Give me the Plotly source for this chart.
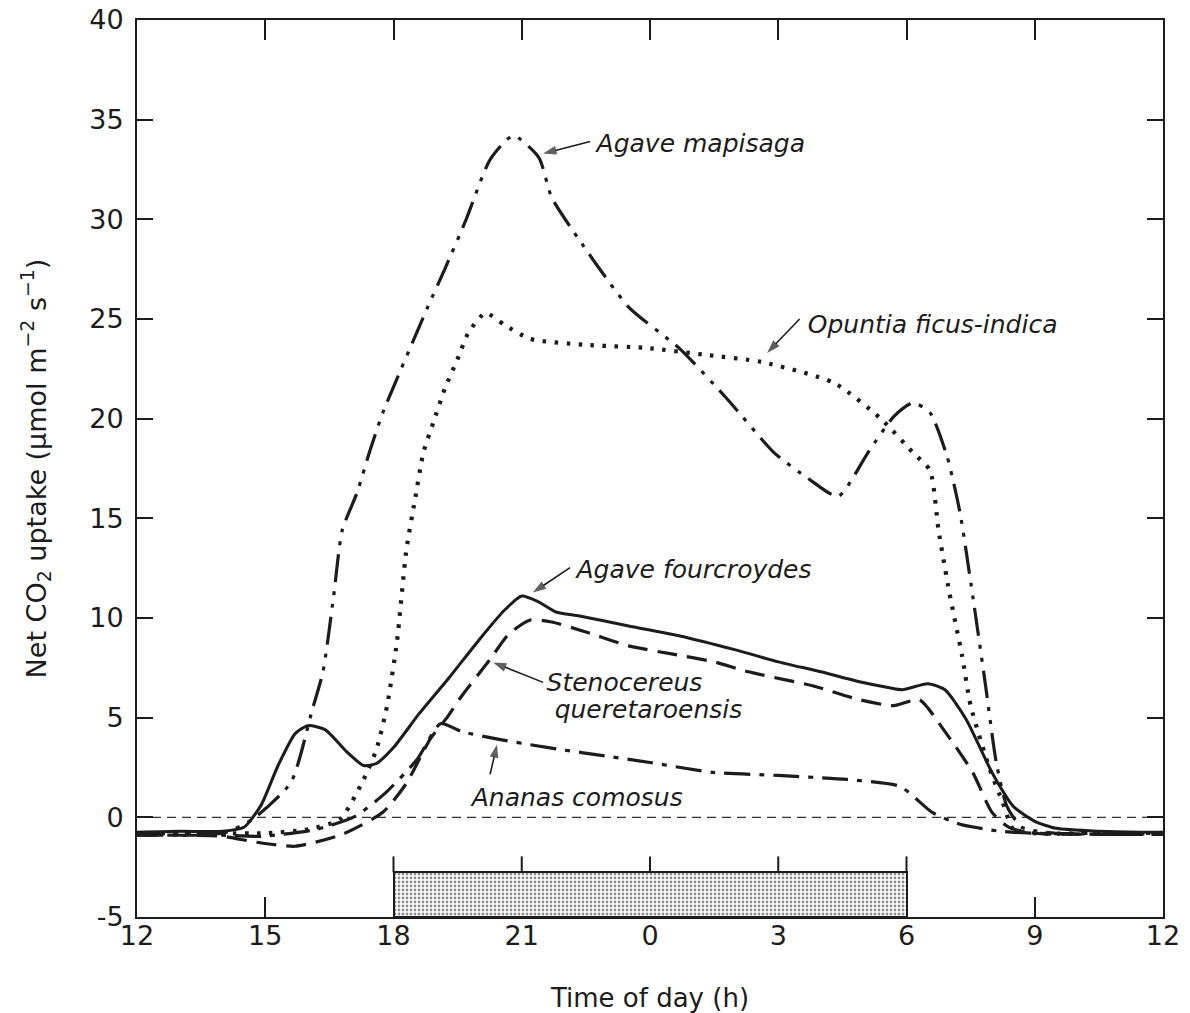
import plotly.graph_objects as go

# Time axis: hours from 12:00 on day 1 to 12:00 on day 2 (36 = noon next day)
tick_hours = [12, 15, 18, 21, 24, 27, 30, 33, 36]
tick_labels = ["12", "15", "18", "21", "0", "3", "6", "9", "12"]
y_ticks = [-5, 0, 5, 10, 15, 20, 25, 30, 35, 40]
y_tick_labels = ["-5", "0", "5", "10", "15", "20", "25", "30", "35", "40"]

# Net CO2 uptake (µmol m-2 s-1) for each species
fourcroydes_t = [12, 13, 14, 14.5, 14.9, 15.3, 15.7, 16.0, 16.4, 16.9, 17.3, 17.6, 18.0,
                 18.6, 19.3, 20.0, 20.6, 21.0, 21.4, 21.8, 22.35, 23.5, 24.7, 26.0, 27.0,
                 28.0, 28.9, 29.6, 29.9, 30.5, 30.9, 31.4, 32.0, 32.5, 33.0, 33.5, 34.5, 35.5, 36]
fourcroydes_v = [-0.75, -0.7, -0.7, -0.5, 0.6, 2.6, 4.2, 4.6, 4.4, 3.3, 2.6, 2.7, 3.5,
                 5.2, 7.0, 8.9, 10.4, 11.1, 10.8, 10.3, 10.1, 9.6, 9.1, 8.4, 7.8,
                 7.3, 6.8, 6.5, 6.4, 6.7, 6.4, 4.9, 2.25, 0.55, -0.2, -0.55, -0.7, -0.75, -0.75]

stenocereus_t = [12, 13, 14, 14.8, 15.7, 16.8, 17.75, 18.3, 18.85, 19.25, 19.6, 20.25, 20.7,
                 21.2, 21.7, 22.5, 23.5, 24.5, 25.5, 26.3, 27.8, 28.9, 29.7, 30.3, 30.9,
                 31.55, 32.0, 32.4, 33.0, 34.5, 36]
stenocereus_v = [-0.9, -0.9, -0.95, -1.25, -1.45, -0.85, 0.25, 1.7, 3.9, 5.0, 6.1, 7.9, 9.2,
                 9.9, 9.8, 9.3, 8.6, 8.2, 7.8, 7.3, 6.6, 5.9, 5.6, 5.9, 4.3,
                 2.25, 0.25, -0.5, -0.8, -0.85, -0.85]

ananas_t = [12, 13, 14, 14.95, 16.2, 17.1, 17.8, 18.55, 19.1, 19.6, 20.5, 21.9, 22.4, 24.0,
            25.5, 27.0, 28.6, 29.85, 30.6, 31.25, 32.2, 33.0, 34.5, 36]
ananas_v = [-0.9, -0.9, -0.9, -0.95, -0.6, 0.05, 1.2, 2.9, 4.7, 4.3, 3.9, 3.4, 3.25, 2.75,
            2.25, 2.1, 1.9, 1.55, 0.25, -0.35, -0.7, -0.8, -0.85, -0.85]

opuntia_t = [12, 13, 14, 15, 16, 16.75, 17.3, 17.6, 17.85, 18.08, 18.3, 18.5, 18.7, 18.93,
             19.2, 19.5, 19.75, 20.15, 20.6, 21.2, 22.5, 23.9, 25.3, 26.6, 28.3, 29.4,
             30.15, 30.55, 30.75, 31.0, 31.3, 31.5, 31.95, 32.25, 32.5, 33.0, 34.5, 36]
opuntia_v = [-0.8, -0.8, -0.8, -0.8, -0.6, -0.1, 1.9, 3.4, 5.6, 8.8, 13.4, 15.9, 18.3, 19.8,
             21.5, 23.0, 24.3, 25.3, 24.7, 24.0, 23.7, 23.55, 23.2, 22.85, 21.8, 20.0,
             18.3, 17.4, 14.4, 11.3, 8.1, 5.6, 2.4, 0.75, -0.6, -0.8, -0.8, -0.8]

mapisaga_t = [12, 13, 14, 14.7, 15.6, 16.1, 16.35, 16.6, 16.8, 17.15, 17.45, 17.75, 18.1,
              18.4, 18.8, 19.2, 19.7, 20.26, 20.8, 21.4, 21.7, 22.4, 23.5, 24.7, 25.8,
              26.9, 27.7, 28.4, 29.1, 29.7, 30.15, 30.55, 30.95, 31.25, 31.55, 31.85,
              32.1, 32.35, 32.7, 33.5, 34.5, 36]
mapisaga_v = [-0.8, -0.8, -0.8, -0.1, 1.75, 5.4, 7.3, 11.1, 14.4, 16.3, 18.4, 20.3, 22.1,
              23.6, 25.6, 27.5, 30.0, 33.0, 34.2, 33.1, 31.1, 28.8, 25.6, 23.5, 21.0,
              18.3, 17.0, 16.1, 18.3, 20.1, 20.8, 20.3, 18.1, 15.3, 11.1, 6.6,
              2.75, 0.55, -0.5, -0.8, -0.8, -0.8]

# Dark period (18:00 to 06:00) shown as a stippled bar above the x axis
dark_start, dark_end = 18, 30
dark_bar_top = -2.76

ink = "#1c1c1c"
font_family = "DejaVu Sans, Verdana, sans-serif"

fig = go.Figure()

# Stippled night bar
fig.add_trace(go.Bar(
    x=[(dark_start + dark_end) / 2], y=[dark_bar_top - y_ticks[0]], base=[y_ticks[0]],
    width=[dark_end - dark_start],
    marker=dict(color="white", line=dict(color=ink, width=2),
                pattern=dict(shape=".", fgcolor="#222", bgcolor="white", size=4, solidity=0.4)),
    hoverinfo="skip", showlegend=False,
))

# Short tick marks standing on top of the night bar
bar_tick_x, bar_tick_y = [], []
for t in tick_hours:
    if dark_start <= t <= dark_end:
        bar_tick_x += [t, t, None]
        bar_tick_y += [dark_bar_top, dark_bar_top + 0.8, None]
fig.add_trace(go.Scatter(x=bar_tick_x, y=bar_tick_y, mode="lines",
                         line=dict(color=ink, width=2), hoverinfo="skip", showlegend=False))

# Zero reference line
fig.add_trace(go.Scatter(x=[tick_hours[0], tick_hours[-1]], y=[0, 0], mode="lines",
                         line=dict(color="#333", width=1.3, dash="9px,6px"),
                         hoverinfo="skip", showlegend=False))

series = [
    (ananas_t, ananas_v, dict(width=3.2, dash="26px,9px,5px,9px")),
    (stenocereus_t, stenocereus_v, dict(width=3.2, dash="20px,10px")),
    (opuntia_t, opuntia_v, dict(width=4.2, dash="3.5px,8.5px")),
    (mapisaga_t, mapisaga_v, dict(width=3.2, dash="28px,9px,4px,9px,4px,9px")),
    (fourcroydes_t, fourcroydes_v, dict(width=3)),
]
for t, v, ln in series:
    fig.add_trace(go.Scatter(x=t, y=v, mode="lines",
                             line=dict(color=ink, shape="spline", smoothing=0.6, **ln),
                             hoverinfo="skip", showlegend=False))

# Species labels with leader arrows: (text, label x, label y, arrow tail, arrow head)
labels = [
    ("Agave mapisaga", 22.75, 33.7, (22.6, 33.9), (21.5, 33.3)),
    ("Opuntia ficus-indica", 27.69, 24.6, (27.5, 25.0), (26.74, 23.3)),
    ("Agave fourcroydes", 22.28, 12.32, (22.13, 12.53), (21.26, 11.28)),
    ("Stenocereus", 21.58, 6.66, (21.5, 6.77), (20.33, 7.77)),
    ("queretaroensis", 21.77, 5.3, None, None),
    ("Ananas comosus", 19.83, 0.9, (20.26, 2.16), (20.42, 3.66)),
]
fig.add_trace(go.Scatter(
    x=[lb[1] for lb in labels], y=[lb[2] for lb in labels], text=[lb[0] for lb in labels],
    mode="text", textposition="middle right",
    textfont=dict(family=font_family, size=25, color=ink, style="italic"),
    hoverinfo="skip", showlegend=False))

for text, tx, ty, tail, head in labels:
    if head is not None:
        fig.add_trace(go.Scatter(
            x=[tail[0], head[0]], y=[tail[1], head[1]], mode="lines+markers",
            line=dict(color=ink, width=1.6),
            marker=dict(symbol="arrow", size=[0, 14], color=ink, angleref="previous",
                        line=dict(width=0)),
            hoverinfo="skip", showlegend=False))

axis_common = dict(
    showline=True, linecolor=ink, linewidth=2, mirror="allticks",
    ticks="inside", tickcolor=ink, tickwidth=2,
    showgrid=False, zeroline=False, automargin=False,
    tickfont=dict(family=font_family, size=27, color=ink),
)

fig.update_layout(
    width=1190, height=1013,
    margin=dict(l=137, r=27, t=20, b=96),
    paper_bgcolor="white", plot_bgcolor="white",
    showlegend=False, bargap=0,
    xaxis=dict(range=[tick_hours[0], tick_hours[-1]], tickvals=tick_hours, ticktext=tick_labels,
               ticklen=20, layer="below traces", ticklabelstandoff=-6,
               title=dict(text="Time of day (h)", standoff=38,
                          font=dict(family=font_family, size=26, color=ink)),
               **axis_common),
    yaxis=dict(range=[y_ticks[0], y_ticks[-1]], tickvals=y_ticks, ticktext=y_tick_labels,
               ticklen=16, ticklabelstandoff=6,
               title=dict(text="Net CO<sub>2</sub> uptake (µmol m<sup>−2</sup> s<sup>−1</sup>)",
                          standoff=35, font=dict(family=font_family, size=27, color=ink)),
               **axis_common),
)

fig.write_html("out.html")
